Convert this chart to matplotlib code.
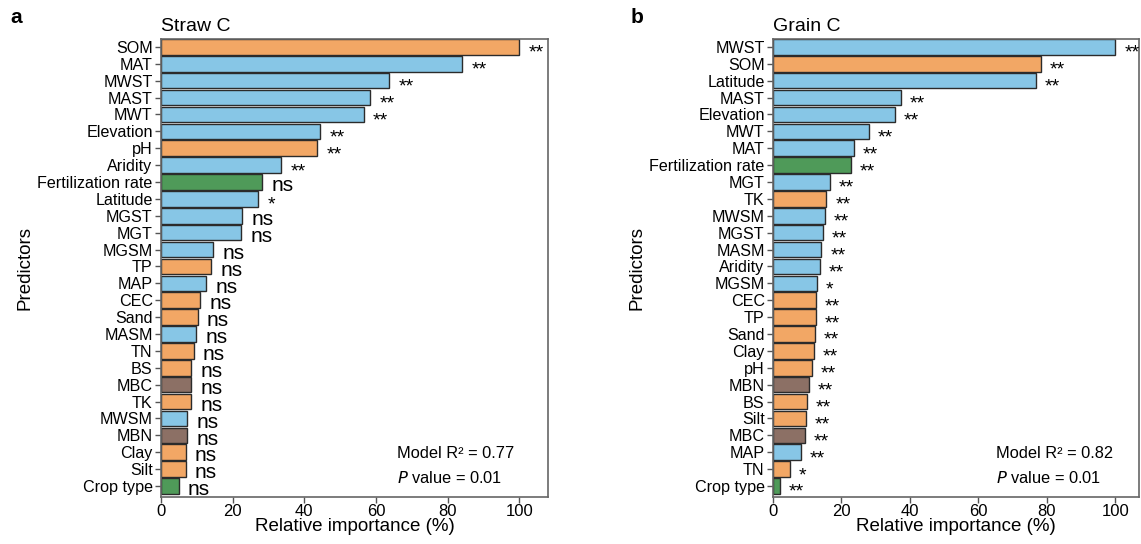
import matplotlib
matplotlib.use("Agg")
import matplotlib.pyplot as plt

plt.rcParams['font.family'] = ['Liberation Sans', 'DejaVu Sans']

# colour per predictor group
BLUE = '#87c6e6'
ORANGE = '#f2a765'
GREEN = '#4f9a59'
BROWN = '#8c7065'
group_colors = {'clim': BLUE, 'soil': ORANGE, 'mgmt': GREEN, 'micro': BROWN}

# Straw C
straw_names = ['SOM', 'MAT', 'MWST', 'MAST', 'MWT', 'Elevation', 'pH', 'Aridity',
               'Fertilization rate', 'Latitude', 'MGST', 'MGT', 'MGSM', 'TP', 'MAP',
               'CEC', 'Sand', 'MASM', 'TN', 'BS', 'MBC', 'TK', 'MWSM', 'MBN', 'Clay',
               'Silt', 'Crop type']
straw_values = [100, 84.0, 63.6, 58.4, 56.6, 44.5, 43.5, 33.5, 28.3, 27.2, 22.6, 22.3,
                14.6, 14.0, 12.6, 11.0, 10.2, 9.9, 9.1, 8.5, 8.4, 8.4, 7.3, 7.3, 6.9,
                6.9, 4.9]
straw_groups = ['soil', 'clim', 'clim', 'clim', 'clim', 'clim', 'soil', 'clim',
                'mgmt', 'clim', 'clim', 'clim', 'clim', 'soil', 'clim', 'soil', 'soil',
                'clim', 'soil', 'soil', 'micro', 'soil', 'clim', 'micro', 'soil',
                'soil', 'mgmt']
straw_sig = ['**'] * 8 + ['ns', '*'] + ['ns'] * 17

# Grain C
grain_names = ['MWST', 'SOM', 'Latitude', 'MAST', 'Elevation', 'MWT', 'MAT',
               'Fertilization rate', 'MGT', 'TK', 'MWSM', 'MGST', 'MASM', 'Aridity',
               'MGSM', 'CEC', 'TP', 'Sand', 'Clay', 'pH', 'MBN', 'BS', 'Silt', 'MBC',
               'MAP', 'TN', 'Crop type']
grain_values = [100, 78.2, 76.8, 37.3, 35.6, 28.0, 23.6, 22.8, 16.7, 15.6, 15.2, 14.5,
                14.1, 13.6, 12.9, 12.5, 12.5, 12.2, 12.0, 11.4, 10.4, 9.9, 9.6, 9.3,
                8.2, 4.9, 2.0]
grain_groups = ['clim', 'soil', 'clim', 'clim', 'clim', 'clim', 'clim', 'mgmt', 'clim',
                'soil', 'clim', 'clim', 'clim', 'clim', 'clim', 'soil', 'soil', 'soil',
                'soil', 'soil', 'micro', 'soil', 'soil', 'micro', 'clim', 'soil', 'mgmt']
grain_sig = ['**'] * 14 + ['*'] + ['**'] * 10 + ['*', '**']


def draw_panel(ax, names, values, groups, sig, title, letter, r2, xmax):
    y = list(range(len(names)))
    colors = [group_colors[g] for g in groups]
    ax.barh(y, values, height=0.92, color=colors, edgecolor='#2b2b2b', linewidth=1.0)
    ax.set_yticks(y)
    ax.set_yticklabels(names, fontsize=11.6)
    ax.set_ylim(len(names) - 0.35, -0.47)
    ax.set_xlim(0, xmax)
    ax.set_xticks([0, 20, 40, 60, 80, 100])
    ax.tick_params(axis='both', colors='#555555', labelcolor='black', length=4, width=1,
                   pad=2)
    ax.tick_params(axis='x', labelsize=12, pad=1)
    for s in ax.spines.values():
        s.set_color('#666666')
        s.set_linewidth(1.2)

    # significance marks next to each bar
    for yi, v, s in zip(y, values, sig):
        if s == 'ns':
            ax.text(v + 2.6, yi + 0.22, s, fontsize=15, va='center', ha='left')
        else:
            ax.text(v + 2.6, yi + 0.38, s, fontsize=14, va='center', ha='left')

    ax.set_xlabel('Relative importance (%)', fontsize=13.5, labelpad=-1)
    ax.set_ylabel('Predictors', fontsize=13.5, labelpad=3)
    ax.set_title(title, fontsize=14, loc='left', pad=6)
    ax.text(0.61, 0.085, f'Model R\u00b2 = {r2}', transform=ax.transAxes, fontsize=11.8)
    ax.text(0.61, 0.03, r'$\it{P}$ value = 0.01', transform=ax.transAxes, fontsize=11.8)
    ax.text(-0.39, 1.025, letter, transform=ax.transAxes, fontsize=15,
            fontweight='bold', va='bottom')


fig = plt.figure(figsize=(11.41, 5.44), dpi=100)
ax1 = fig.add_axes([0.1411, 0.0864, 0.3392, 0.842])
ax2 = fig.add_axes([0.6775, 0.0864, 0.3210, 0.842])

draw_panel(ax1, straw_names, straw_values, straw_groups, straw_sig, 'Straw C', 'a',
           '0.77', 108)
draw_panel(ax2, grain_names, grain_values, grain_groups, grain_sig, 'Grain C', 'b',
           '0.82', 107)

fig.savefig('out.png', dpi=100)
